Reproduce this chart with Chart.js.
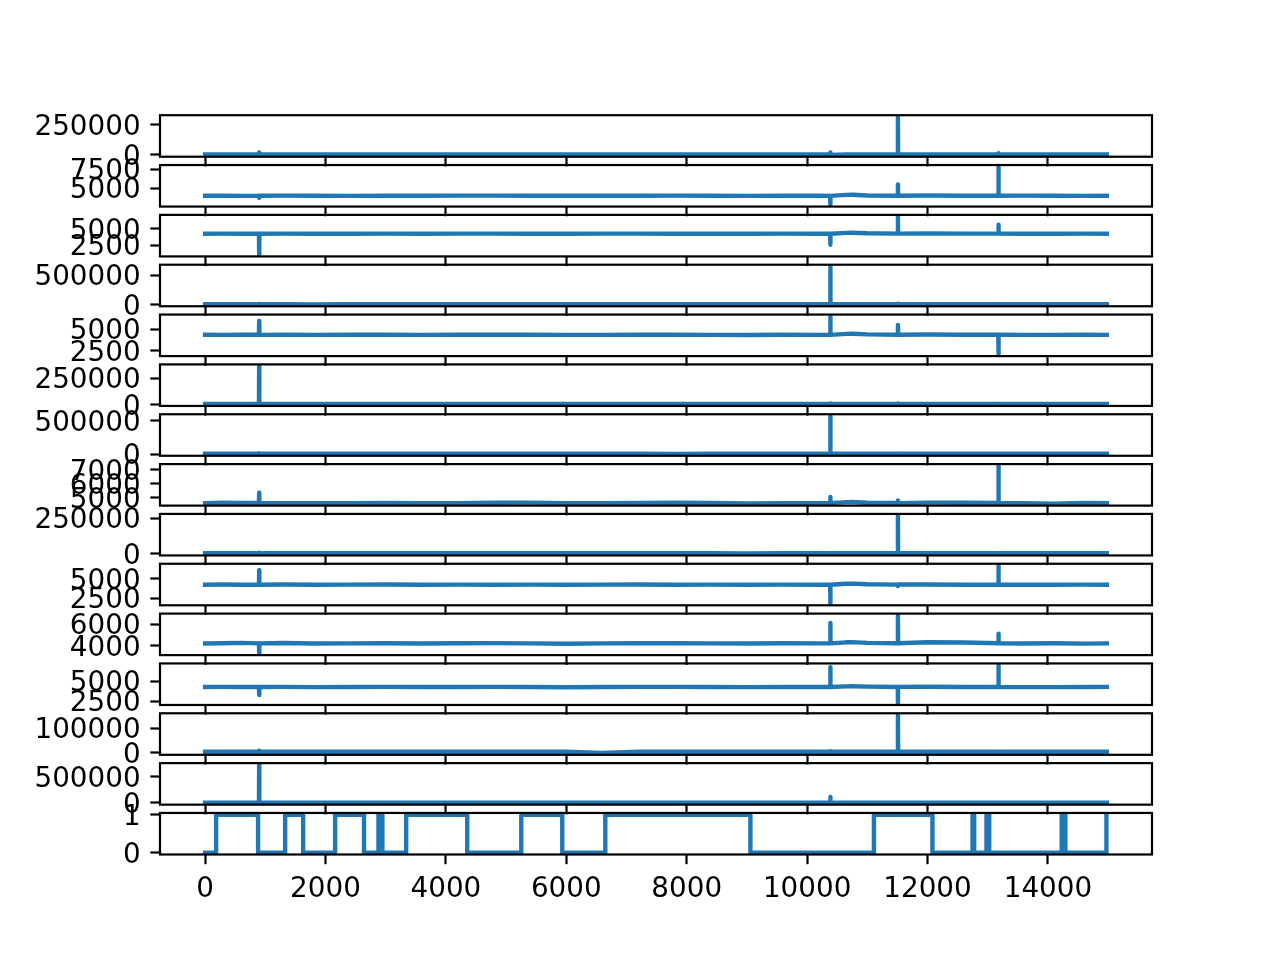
<!DOCTYPE html>
<html>
<head>
<meta charset="utf-8">
<title>EEG channels</title>
<script src="https://cdn.jsdelivr.net/npm/chart.js@4"></script>
<style>
  html, body { margin: 0; padding: 0; background: #fff; }
  #wrap { position: relative; width: 1280px; height: 960px; }
  #wrap canvas { position: absolute; left: 0; top: 0; }
</style>
</head>
<body>
<div id="wrap"></div>
<script>
// sample positions shared by the 14 channels
const sampleX = [0, 300, 600, 895, 898, 901, 1300, 1800, 2400, 3000, 3600, 4200, 4800, 5400, 6000, 6600, 7200, 7800, 8400, 9000, 9600, 10200, 10383, 10386, 10389, 10650, 10750, 11000, 11506, 11509, 11512, 12000, 12600, 13176, 13179, 13182, 13600, 14100, 14600, 14979];

const af3 = [4295, 4310, 4325, 4318, 20000, 4320, 4305, 4290, 4315, 4322, 4300, 4312, 4330, 4318, 4296, 4308, 4320, 4335, 4322, 4300, 4315, 4310, 4320, 20000, 1030, 4345, 4350, 4325, 4318, 309231, 4320, 4332, 4310, 4322, 14000, 4318, 4305, 4296, 4320, 4312];
const f7 = [4000, 4015, 3990, 3995, 3750, 4000, 4020, 4005, 3995, 4010, 4000, 4018, 4025, 4010, 3998, 4005, 4012, 4020, 4002, 3990, 4008, 4000, 3995, 2830, 3990, 4120, 4140, 4040, 4010, 5510, 4015, 4030, 4005, 4012, 7804, 4010, 4025, 4000, 3985, 4005];
const f3 = [4260, 4275, 4250, 4260, 1040, 4255, 4270, 4245, 4262, 4275, 4258, 4266, 4272, 4260, 4250, 4265, 4270, 4262, 4255, 4248, 4265, 4258, 4260, 2563, 4250, 4390, 4400, 4320, 4270, 6880, 4275, 4290, 4265, 4270, 5656, 4268, 4260, 4250, 4272, 4262];
const fc5 = [4150, 4170, 4160, 4165, 9000, 4158, 4172, 2453, 4168, 4155, 4170, 4162, 4178, 4165, 4150, 4160, 4172, 4168, 4155, 4148, 4165, 4160, 4158, 642564, 4162, 4210, 4230, 4190, 4170, 12000, 4168, 4180, 4160, 4172, 8000, 4165, 4155, 4150, 4170, 4162];
const t7 = [4345, 4335, 4340, 4342, 5950, 4338, 4345, 4330, 4340, 4350, 4335, 4342, 4348, 4340, 4328, 4336, 4345, 4350, 4338, 4325, 4340, 4336, 4340, 6474, 4335, 4450, 4470, 4390, 4345, 5500, 4350, 4370, 4342, 4345, 2089, 4340, 4335, 4328, 4345, 4338];
const p7 = [4640, 4655, 4632, 4648, 362564, 4640, 4655, 4635, 4648, 4660, 4640, 4650, 4665, 4652, 4630, 4645, 4655, 4660, 2768, 4628, 4648, 4640, 4645, 9000, 4642, 4700, 4715, 4680, 4650, 8000, 4648, 4665, 4640, 4655, 7000, 4650, 4638, 4630, 4652, 4645];
const o1 = [4105, 4120, 4098, 4112, 9000, 4108, 4120, 4095, 4110, 4125, 4102, 4115, 4130, 4112, 4092, 4108, 4118, 2086, 4105, 4090, 4112, 4102, 4110, 567179, 4105, 4180, 4195, 4150, 4115, 7000, 4112, 4130, 4105, 4118, 6500, 4110, 4100, 4095, 4115, 4108];
const o2 = [4600, 4640, 4625, 4630, 5356, 4620, 4610, 4598, 4612, 4622, 4605, 4600, 4632, 4648, 4612, 4600, 4620, 4635, 4618, 4590, 4610, 4605, 4615, 5049, 4610, 4680, 4690, 4640, 4620, 4800, 4612, 4645, 4640, 4625, 7264, 4618, 4600, 4567, 4622, 4610];
const p8 = [4210, 4225, 4200, 4218, 7000, 4212, 4228, 4205, 4215, 4230, 4208, 4220, 4235, 4218, 4198, 4212, 4225, 4230, 4210, 1357, 4215, 4208, 4215, 6500, 4210, 4270, 4285, 4245, 4220, 265641, 4218, 4235, 4210, 4225, 5500, 4215, 4205, 4198, 4220, 4212];
const t8 = [4225, 4240, 4218, 4230, 6081, 4225, 4240, 4210, 4232, 4245, 4220, 4235, 4215, 4230, 4212, 4228, 4240, 4218, 4232, 4208, 4230, 4222, 4228, 1816, 4225, 4340, 4360, 4280, 4235, 4050, 4240, 4255, 4225, 4238, 6674, 4230, 4220, 4212, 4235, 4225];
const fc6 = [4195, 4215, 4245, 4205, 3273, 4200, 4240, 4190, 4205, 4218, 4195, 4210, 4222, 4205, 4170, 4198, 4212, 4218, 4200, 4185, 4206, 4198, 4205, 6116, 4200, 4300, 4320, 4250, 4210, 6823, 4215, 4300, 4290, 4212, 5110, 4205, 4195, 4210, 4180, 4198];
const f4 = [4275, 4295, 4270, 4280, 3268, 4272, 4298, 4265, 4280, 4292, 4270, 4282, 4298, 4278, 4245, 4272, 4288, 4295, 4275, 4258, 4280, 4272, 4278, 6782, 4275, 4360, 4375, 4320, 4285, 2257, 4290, 4305, 4275, 4288, 7002, 4280, 4268, 4258, 4285, 4290];
const f8 = [4610, 4625, 4600, 4618, 9000, 4612, 4628, 4605, 4615, 4630, 4608, 4620, 4635, 4618, 4595, 86, 4625, 4630, 4610, 4598, 4615, 4608, 4615, 7000, 4610, 4670, 4685, 4645, 4620, 152308, 4618, 4635, 4610, 4625, 6500, 4615, 4605, 4598, 4620, 4612];
const af4 = [4410, 4425, 4400, 4418, 715897, 4412, 4428, 4405, 4415, 4430, 4408, 4420, 4435, 4418, 4398, 4412, 1366, 4430, 4410, 4398, 4415, 4408, 4415, 110000, 4410, 4470, 4485, 4445, 4420, 9000, 4418, 4435, 4410, 4425, 7000, 4415, 4405, 4398, 4420, 4412];

// eye state, every change is listed twice so the line stays square
const eyeX = [0, 183, 183, 880, 880, 1330, 1330, 1629, 1629, 2160, 2160, 2640, 2640, 2880, 2880, 2945, 2945, 3340, 3340, 4354, 4354, 5252, 5252, 5933, 5933, 6648, 6648, 9058, 9058, 11110, 11110, 12082, 12082, 12748, 12748, 12775, 12775, 12980, 12980, 13025, 13025, 14230, 14230, 14250, 14250, 14268, 14268, 14290, 14290, 14965, 14965, 14979];
const eyeY = [0, 0, 1, 1, 0, 0, 1, 1, 0, 0, 1, 1, 0, 0, 1, 1, 0, 0, 1, 1, 0, 0, 1, 1, 0, 0, 1, 1, 0, 0, 1, 1, 0, 0, 1, 1, 0, 0, 1, 1, 0, 0, 1, 1, 0, 0, 1, 1, 0, 0, 1, 1];

const xTicks = [0, 2000, 4000, 6000, 8000, 10000, 12000, 14000];
const yTicks = [
  [0, 250000], [5000, 7500], [2500, 5000], [0, 500000], [2500, 5000],
  [0, 250000], [0, 500000], [5000, 6000, 7000], [0, 250000], [2500, 5000],
  [4000, 6000], [2500, 5000], [0, 100000], [0, 500000], [0, 1],
];

const channels = [af3, f7, f3, fc5, t7, p7, o1, o2, p8, t8, fc6, f4, f8, af4];

// matplotlib figure at 200 dpi: 10pt text, 1.5pt line, 0.8pt spines, 3.5pt ticks
const FONT = { family: "'DejaVu Sans'", size: 27.8 };
const BLUE = "#1f77b4";
const TOP = 115.2;
const PANEL = 41.53;
const STEP = 49.84;
const X_AXIS_H = 70; // room kept under each panel, the label clip follows it

// draws the four spines over the line
const frame = {
  id: "frame",
  afterDatasetsDraw(chart) {
    const a = chart.chartArea;
    const c = chart.ctx;
    c.save();
    c.strokeStyle = "#000";
    c.lineWidth = 2.2;
    c.strokeRect(a.left, a.top, a.right - a.left, a.bottom - a.top);
    c.restore();
  },
};

function makePanel(i) {
  const last = i === 14;
  const xs = last ? eyeX : sampleX;
  const ys = last ? eyeY : channels[i];
  const points = xs.map((x, k) => ({ x: x, y: ys[k] }));

  // 5% margin each side like the default autoscale
  const lo = Math.min(...ys);
  const hi = Math.max(...ys);
  const margin = (hi - lo) * 0.05;

  const canvas = document.createElement("canvas");
  canvas.width = 1280;
  canvas.height = 960;
  document.getElementById("wrap").appendChild(canvas);

  const top = TOP + STEP * i;

  return new Chart(canvas, {
    type: "line",
    data: {
      datasets: [
        {
          data: points,
          borderColor: BLUE,
          borderWidth: 4.4,
          borderCapStyle: "square",
          borderJoinStyle: "round",
          pointRadius: 0,
          tension: 0,
        },
      ],
    },
    options: {
      responsive: false,
      animation: false,
      devicePixelRatio: 1,
      events: [],
      layout: {
        padding: { top: top, bottom: 960 - top - PANEL - X_AXIS_H, left: 0, right: 128 },
      },
      plugins: {
        legend: { display: false },
        tooltip: { enabled: false },
      },
      scales: {
        x: {
          type: "linear",
          min: -749,
          max: 15729,
          border: { display: false },
          grid: {
            drawOnChartArea: false,
            tickLength: 9.7,
            tickWidth: 2.2,
            tickColor: "#000",
          },
          ticks: {
            display: last,
            autoSkip: false,
            maxRotation: 0,
            padding: 9,
            color: "#000",
            font: FONT,
            callback: (v) => String(v),
          },
          afterBuildTicks: (scale) => {
            scale.ticks = xTicks.map((v) => ({ value: v }));
          },
          afterFit: (scale) => {
            scale.height = X_AXIS_H;
          },
        },
        y: {
          min: lo - margin,
          max: hi + margin,
          border: { display: false },
          grid: {
            drawOnChartArea: false,
            tickLength: 9.7,
            tickWidth: 2.2,
            tickColor: "#000",
          },
          ticks: {
            autoSkip: false,
            padding: 9.7,
            labelOffset: 3,
            color: "#000",
            font: FONT,
            callback: (v) => String(v),
          },
          afterBuildTicks: (scale) => {
            scale.ticks = yTicks[i].map((v) => ({ value: v }));
          },
          afterFit: (scale) => {
            scale.width = 160;
          },
        },
      },
    },
    plugins: [frame],
  });
}

for (let i = 0; i < 15; i++) {
  makePanel(i);
}
</script>
</body>
</html>
